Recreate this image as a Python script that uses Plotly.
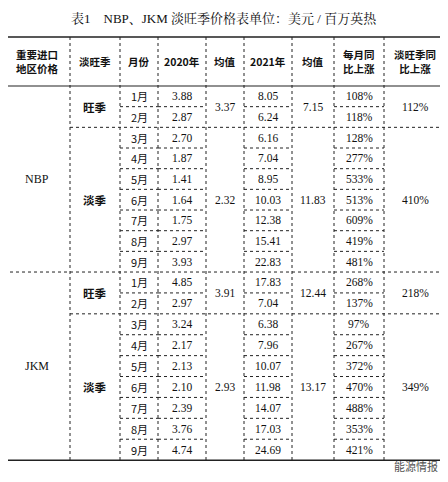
import plotly.graph_objects as go

title = "表1　NBP、JKM 淡旺季价格表单位：美元 / 百万英热"
source = "数据来源：海关总署"
headers = ["重要进口<br>地区价格", "淡旺季", "月份", "2020年", "均值", "2021年", "均值", "每月同<br>比上涨", "淡旺季同<br>比上涨"]
regions = ["NBP", "JKM"]
seasons = ["旺季", "淡季"]
months = ["1月", "2月", "3月", "4月", "5月", "6月", "7月", "8月", "9月"]
p2020 = {"NBP": ["3.88", "2.87", "2.70", "1.87", "1.41", "1.64", "1.75", "2.97", "3.93"],
         "JKM": ["4.85", "2.97", "3.24", "2.17", "2.13", "2.10", "2.39", "3.76", "4.74"]}
p2021 = {"NBP": ["8.05", "6.24", "6.16", "7.04", "8.95", "10.03", "12.38", "15.41", "22.83"],
         "JKM": ["17.83", "7.04", "6.38", "7.96", "10.07", "11.98", "14.07", "17.03", "24.69"]}
yoy = {"NBP": ["108%", "118%", "128%", "277%", "533%", "513%", "609%", "419%", "481%"],
       "JKM": ["268%", "137%", "97%", "267%", "372%", "470%", "488%", "353%", "421%"]}
avg2020 = {"NBP": ["3.37", "2.32"], "JKM": ["3.91", "2.93"]}
avg2021 = {"NBP": ["7.15", "11.83"], "JKM": ["12.44", "13.17"]}
season_yoy = {"NBP": ["112%", "410%"], "JKM": ["218%", "349%"]}
season_months = [2, 7]

# layout geometry (pixels mapped onto hidden axes)
xe = [4, 70, 120, 158, 206, 244, 292, 334, 384, 446]
ytop, yhead = 37, 86
rowh = [20.67] * 9 + [20.9] * 9

fig = go.Figure()
shapes, ann = [], []
ink = "#222"
serif = "Liberation Serif, Noto Serif CJK SC, serif"
cjk = "Noto Sans CJK SC"

def line(x0, y0, x1, y1, dash="solid", w=1):
    shapes.append(dict(type="line", x0=x0, y0=y0, x1=x1, y1=y1,
                       line=dict(color=ink, width=w, dash=dash)))

def text(x, y, s, font=serif, size=11.5, bold=False):
    ann.append(dict(x=x, y=y, text=f"<b>{s}</b>" if bold else s, showarrow=False,
                    font=dict(family=font, size=size, color="#111"), xanchor="center", yanchor="middle"))

cx = [(xe[i] + xe[i + 1]) / 2 for i in range(9)]
for i, h in enumerate(headers):
    text(cx[i], (ytop + yhead) / 2, h, font=cjk, size=10.5, bold=True)

y = yhead
ri = 0
for reg in regions:
    ry0 = y
    for si, n in enumerate(season_months):
        sy0 = y
        for k in range(n):
            mi = sum(season_months[:si]) + k
            h = rowh[ri]; ri += 1
            ym = y + h / 2
            text(cx[2], ym, months[mi], font=cjk, size=11)
            text(cx[3], ym, p2020[reg][mi])
            text(cx[5], ym, p2021[reg][mi])
            text(cx[7], ym, yoy[reg][mi])
            y += h
            if k < n - 1:
                for c in (2, 3, 5, 7):
                    line(xe[c], y, xe[c + 1], y, "dot")
        sm = (sy0 + y) / 2
        text(cx[1], sm, seasons[si], font=cjk, size=11.5, bold=True)
        text(cx[4], sm, avg2020[reg][si])
        text(cx[6], sm, avg2021[reg][si])
        text(cx[8], sm, season_yoy[reg][si])
        if si == 0:
            line(xe[1], y, xe[9], y, "dot")
    text(cx[0], (ry0 + y) / 2, reg, size=12)
    if reg != regions[-1]:
        line(xe[0], y, xe[9], y, "dot")
ybot = y

line(xe[0], yhead, xe[9], yhead, "solid", 1.2)
for c in range(1, 9):
    line(xe[c], ytop, xe[c], ybot, "dot")
shapes.append(dict(type="rect", x0=xe[0], y0=ytop, x1=xe[9], y1=ybot, line=dict(color=ink, width=1.5)))

ann.append(dict(x=224, y=18, text=title, showarrow=False, font=dict(family=serif, size=13, color="#111"),
                xanchor="center", yanchor="middle"))
ann.append(dict(x=5, y=470, text=source, showarrow=False, font=dict(family=serif, size=10, color="#333"),
                xanchor="left", yanchor="middle"))
ann.append(dict(x=440, y=466, text="能源情报", showarrow=False, font=dict(family=cjk, size=11, color="#555"),
                xanchor="right", yanchor="middle"))

fig.add_trace(go.Scatter(x=[8, 456], y=[8, 490], mode="markers", marker=dict(opacity=0), hoverinfo="skip"))
fig.update_layout(width=448, height=482, margin=dict(l=0, r=0, t=0, b=0), showlegend=False,
                  plot_bgcolor="white", paper_bgcolor="white", shapes=shapes, annotations=ann,
                  xaxis=dict(range=[8, 456], visible=False, fixedrange=True),
                  yaxis=dict(range=[490, 8], visible=False, fixedrange=True))
fig.write_html("out.html", config={"displayModeBar": False})
